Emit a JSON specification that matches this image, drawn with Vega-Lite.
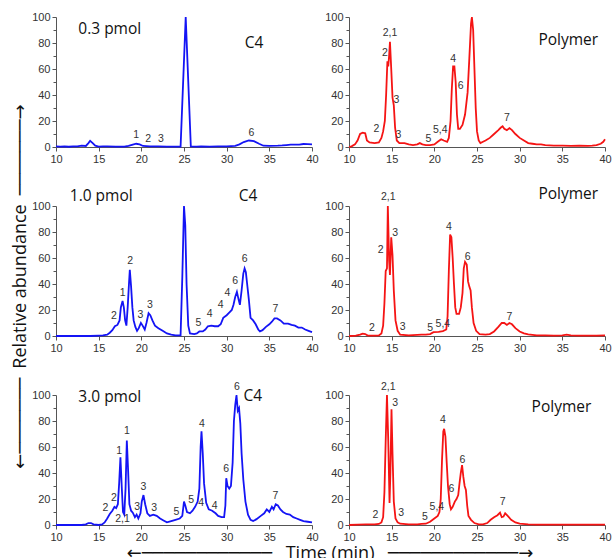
{
 "$schema": "https://vega.github.io/schema/vega-lite/v6.json",
 "padding": {"left": 10, "top": 11, "right": 5, "bottom": 5},
 "bounds": "flush",
 "columns": 2,
 "spacing": {"row": 59, "column": 37},
 "title": {"text": "←────────────\u2002 Time (min) \u2002────────────→", "orient": "bottom", "anchor": "middle", "dx": 19, "font": "Open Sans, DejaVu Sans", "fontSize": 18, "fontWeight": "normal", "color": "#111", "offset": 3},
 "datasets": {
  "curves": [
   {"p":"a","t":10,"y":0.5},{"p":"a","t":10.5,"y":0.3},{"p":"a","t":11,"y":0.5},{"p":"a","t":11.5,"y":0.2},{"p":"a","t":12,"y":0.5},{"p":"a","t":12.5,"y":0.5},{"p":"a","t":13,"y":1},{"p":"a","t":13.5,"y":0.8},{"p":"a","t":13.8,"y":3},{"p":"a","t":14,"y":4.8},{"p":"a","t":14.3,"y":3},{"p":"a","t":14.6,"y":1},{"p":"a","t":15,"y":0.3},{"p":"a","t":15.5,"y":0.5},{"p":"a","t":16,"y":0.5},{"p":"a","t":17,"y":0.3},{"p":"a","t":18,"y":0.3},{"p":"a","t":18.5,"y":0.8},{"p":"a","t":19,"y":1.8},{"p":"a","t":19.4,"y":2.5},{"p":"a","t":19.8,"y":2},{"p":"a","t":20.2,"y":0.8},{"p":"a","t":21,"y":0.5},{"p":"a","t":22,"y":0.5},{"p":"a","t":23,"y":0.3},{"p":"a","t":24,"y":0.3},{"p":"a","t":24.6,"y":0.3},{"p":"a","t":25.2,"y":100},{"p":"a","t":25.8,"y":0.5},{"p":"a","t":26.5,"y":0.3},{"p":"a","t":27,"y":0.5},{"p":"a","t":28,"y":0.3},{"p":"a","t":29,"y":0.5},{"p":"a","t":30,"y":0.5},{"p":"a","t":31,"y":0.8},{"p":"a","t":31.5,"y":2},{"p":"a","t":32,"y":3.8},{"p":"a","t":32.6,"y":5},{"p":"a","t":33.2,"y":4.5},{"p":"a","t":33.8,"y":2.5},{"p":"a","t":34.3,"y":1},{"p":"a","t":35,"y":0.8},{"p":"a","t":36,"y":1},{"p":"a","t":36.5,"y":1.2},{"p":"a","t":37,"y":1.5},{"p":"a","t":37.5,"y":1.8},{"p":"a","t":38,"y":1.8},{"p":"a","t":38.5,"y":1.8},{"p":"a","t":39,"y":2.3},{"p":"a","t":39.5,"y":2.2},{"p":"a","t":40,"y":2},
   {"p":"b","t":10,"y":0},{"p":"b","t":10.3,"y":0.5},{"p":"b","t":10.7,"y":2},{"p":"b","t":11,"y":5},{"p":"b","t":11.3,"y":10},{"p":"b","t":11.6,"y":11},{"p":"b","t":11.9,"y":10.5},{"p":"b","t":12.1,"y":5},{"p":"b","t":12.4,"y":3.5},{"p":"b","t":13,"y":3},{"p":"b","t":13.5,"y":3.5},{"p":"b","t":13.8,"y":7},{"p":"b","t":14,"y":12},{"p":"b","t":14.2,"y":20},{"p":"b","t":14.35,"y":40},{"p":"b","t":14.5,"y":66},{"p":"b","t":14.6,"y":62},{"p":"b","t":14.7,"y":70},{"p":"b","t":14.8,"y":81},{"p":"b","t":14.95,"y":60},{"p":"b","t":15.1,"y":38},{"p":"b","t":15.25,"y":32},{"p":"b","t":15.4,"y":15},{"p":"b","t":15.6,"y":5},{"p":"b","t":15.9,"y":3},{"p":"b","t":16.5,"y":3},{"p":"b","t":17,"y":2},{"p":"b","t":17.5,"y":1.5},{"p":"b","t":18,"y":2},{"p":"b","t":18.3,"y":3},{"p":"b","t":18.6,"y":2},{"p":"b","t":19,"y":1.5},{"p":"b","t":19.5,"y":1.5},{"p":"b","t":20,"y":2},{"p":"b","t":20.4,"y":4},{"p":"b","t":20.8,"y":6},{"p":"b","t":21.1,"y":5},{"p":"b","t":21.5,"y":4},{"p":"b","t":21.7,"y":7},{"p":"b","t":21.9,"y":20},{"p":"b","t":22.05,"y":45},{"p":"b","t":22.2,"y":62},{"p":"b","t":22.35,"y":62},{"p":"b","t":22.5,"y":50},{"p":"b","t":22.65,"y":25},{"p":"b","t":22.8,"y":14},{"p":"b","t":23,"y":14},{"p":"b","t":23.3,"y":17},{"p":"b","t":23.6,"y":25},{"p":"b","t":23.9,"y":42},{"p":"b","t":24.1,"y":68},{"p":"b","t":24.3,"y":95},{"p":"b","t":24.4,"y":100},{"p":"b","t":24.55,"y":90},{"p":"b","t":24.7,"y":60},{"p":"b","t":24.85,"y":30},{"p":"b","t":25,"y":12},{"p":"b","t":25.2,"y":5},{"p":"b","t":25.4,"y":3},{"p":"b","t":25.7,"y":4},{"p":"b","t":26,"y":5},{"p":"b","t":26.5,"y":7},{"p":"b","t":27,"y":10},{"p":"b","t":27.5,"y":13},{"p":"b","t":27.8,"y":15},{"p":"b","t":28,"y":16},{"p":"b","t":28.2,"y":14},{"p":"b","t":28.5,"y":13},{"p":"b","t":28.8,"y":14.5},{"p":"b","t":29.1,"y":13},{"p":"b","t":29.5,"y":10},{"p":"b","t":30,"y":7},{"p":"b","t":30.5,"y":5},{"p":"b","t":31,"y":3},{"p":"b","t":31.5,"y":2.5},{"p":"b","t":32,"y":2},{"p":"b","t":32.5,"y":2},{"p":"b","t":33,"y":1.5},{"p":"b","t":34,"y":1},{"p":"b","t":35,"y":1},{"p":"b","t":36,"y":0.8},{"p":"b","t":37,"y":1},{"p":"b","t":38,"y":0.8},{"p":"b","t":38.5,"y":1},{"p":"b","t":39,"y":1.5},{"p":"b","t":39.5,"y":2.5},{"p":"b","t":39.8,"y":4},{"p":"b","t":40,"y":6},
   {"p":"c","t":10,"y":0},{"p":"c","t":11,"y":0},{"p":"c","t":12,"y":0},{"p":"c","t":13,"y":0},{"p":"c","t":14,"y":0},{"p":"c","t":15,"y":0.3},{"p":"c","t":15.5,"y":0.5},{"p":"c","t":16,"y":1},{"p":"c","t":16.3,"y":2.5},{"p":"c","t":16.6,"y":4.5},{"p":"c","t":16.9,"y":7.5},{"p":"c","t":17.2,"y":8.5},{"p":"c","t":17.45,"y":12},{"p":"c","t":17.6,"y":22},{"p":"c","t":17.8,"y":27},{"p":"c","t":17.95,"y":22},{"p":"c","t":18.1,"y":12},{"p":"c","t":18.25,"y":8},{"p":"c","t":18.4,"y":22},{"p":"c","t":18.55,"y":40},{"p":"c","t":18.65,"y":51},{"p":"c","t":18.8,"y":38},{"p":"c","t":18.95,"y":22},{"p":"c","t":19.1,"y":12},{"p":"c","t":19.3,"y":7},{"p":"c","t":19.5,"y":4},{"p":"c","t":19.7,"y":6},{"p":"c","t":19.95,"y":10},{"p":"c","t":20.15,"y":8},{"p":"c","t":20.4,"y":5},{"p":"c","t":20.6,"y":10},{"p":"c","t":20.85,"y":17.5},{"p":"c","t":21.05,"y":16},{"p":"c","t":21.3,"y":12},{"p":"c","t":21.6,"y":8},{"p":"c","t":22,"y":6},{"p":"c","t":22.5,"y":4},{"p":"c","t":23,"y":2},{"p":"c","t":23.5,"y":1},{"p":"c","t":24,"y":0.5},{"p":"c","t":24.6,"y":0.5},{"p":"c","t":24.8,"y":45},{"p":"c","t":25,"y":100},{"p":"c","t":25.15,"y":85},{"p":"c","t":25.3,"y":40},{"p":"c","t":25.5,"y":8},{"p":"c","t":25.7,"y":2},{"p":"c","t":26.2,"y":1.5},{"p":"c","t":26.5,"y":2},{"p":"c","t":26.8,"y":3.5},{"p":"c","t":27.2,"y":3.5},{"p":"c","t":27.5,"y":5},{"p":"c","t":27.8,"y":7.5},{"p":"c","t":28.2,"y":8},{"p":"c","t":28.6,"y":7.5},{"p":"c","t":29,"y":7.5},{"p":"c","t":29.3,"y":9},{"p":"c","t":29.6,"y":14},{"p":"c","t":30,"y":16},{"p":"c","t":30.3,"y":18},{"p":"c","t":30.6,"y":20},{"p":"c","t":30.8,"y":24},{"p":"c","t":31,"y":30},{"p":"c","t":31.2,"y":34},{"p":"c","t":31.4,"y":28},{"p":"c","t":31.55,"y":24},{"p":"c","t":31.75,"y":35},{"p":"c","t":31.95,"y":48},{"p":"c","t":32.1,"y":52},{"p":"c","t":32.25,"y":49},{"p":"c","t":32.4,"y":40},{"p":"c","t":32.6,"y":28},{"p":"c","t":32.8,"y":14},{"p":"c","t":33.1,"y":12},{"p":"c","t":33.4,"y":9},{"p":"c","t":33.7,"y":5},{"p":"c","t":33.9,"y":3.5},{"p":"c","t":34.2,"y":4.5},{"p":"c","t":34.6,"y":7},{"p":"c","t":35,"y":9},{"p":"c","t":35.3,"y":11},{"p":"c","t":35.6,"y":13.5},{"p":"c","t":35.9,"y":13.5},{"p":"c","t":36.3,"y":12},{"p":"c","t":36.7,"y":9.5},{"p":"c","t":37.2,"y":9.5},{"p":"c","t":37.6,"y":8.5},{"p":"c","t":38,"y":8},{"p":"c","t":38.4,"y":6.5},{"p":"c","t":38.8,"y":6.5},{"p":"c","t":39.2,"y":5},{"p":"c","t":39.6,"y":4},{"p":"c","t":40,"y":3},
   {"p":"d","t":10,"y":0},{"p":"d","t":10.8,"y":0.3},{"p":"d","t":11.3,"y":1},{"p":"d","t":11.6,"y":1.8},{"p":"d","t":11.9,"y":1.5},{"p":"d","t":12.2,"y":0.3},{"p":"d","t":13,"y":0.3},{"p":"d","t":13.5,"y":0.5},{"p":"d","t":13.8,"y":2},{"p":"d","t":14,"y":8},{"p":"d","t":14.15,"y":25},{"p":"d","t":14.3,"y":50},{"p":"d","t":14.45,"y":52},{"p":"d","t":14.55,"y":100},{"p":"d","t":14.7,"y":58},{"p":"d","t":14.8,"y":47},{"p":"d","t":14.95,"y":76},{"p":"d","t":15.1,"y":62},{"p":"d","t":15.25,"y":35},{"p":"d","t":15.45,"y":12},{"p":"d","t":15.7,"y":4},{"p":"d","t":16,"y":1},{"p":"d","t":17,"y":0.5},{"p":"d","t":18,"y":0.8},{"p":"d","t":18.5,"y":1},{"p":"d","t":19,"y":1},{"p":"d","t":19.5,"y":1.5},{"p":"d","t":19.9,"y":3},{"p":"d","t":20.5,"y":3.2},{"p":"d","t":21,"y":3.8},{"p":"d","t":21.4,"y":5},{"p":"d","t":21.55,"y":15},{"p":"d","t":21.7,"y":50},{"p":"d","t":21.85,"y":78},{"p":"d","t":22,"y":76},{"p":"d","t":22.15,"y":60},{"p":"d","t":22.3,"y":40},{"p":"d","t":22.45,"y":22},{"p":"d","t":22.6,"y":17},{"p":"d","t":22.9,"y":17},{"p":"d","t":23.1,"y":22},{"p":"d","t":23.3,"y":33},{"p":"d","t":23.45,"y":52},{"p":"d","t":23.6,"y":57},{"p":"d","t":23.8,"y":55},{"p":"d","t":23.95,"y":42},{"p":"d","t":24.1,"y":38},{"p":"d","t":24.25,"y":35},{"p":"d","t":24.4,"y":22},{"p":"d","t":24.6,"y":10},{"p":"d","t":24.9,"y":4},{"p":"d","t":25.3,"y":1.5},{"p":"d","t":26,"y":1},{"p":"d","t":26.5,"y":1.5},{"p":"d","t":27,"y":3.5},{"p":"d","t":27.5,"y":7},{"p":"d","t":27.9,"y":10},{"p":"d","t":28.2,"y":10},{"p":"d","t":28.5,"y":8.5},{"p":"d","t":28.8,"y":10},{"p":"d","t":29.1,"y":9},{"p":"d","t":29.5,"y":6},{"p":"d","t":30,"y":3.5},{"p":"d","t":30.5,"y":2},{"p":"d","t":31,"y":1.2},{"p":"d","t":32,"y":0.5},{"p":"d","t":33,"y":0.5},{"p":"d","t":34,"y":0.3},{"p":"d","t":35,"y":0.5},{"p":"d","t":35.5,"y":1},{"p":"d","t":36,"y":0.5},{"p":"d","t":37,"y":0.3},{"p":"d","t":38,"y":0.3},{"p":"d","t":39,"y":0.3},{"p":"d","t":40,"y":0.5},
   {"p":"e","t":10,"y":0},{"p":"e","t":11,"y":0},{"p":"e","t":12,"y":0},{"p":"e","t":13,"y":0},{"p":"e","t":13.5,"y":0.5},{"p":"e","t":13.8,"y":1.5},{"p":"e","t":14.1,"y":1.5},{"p":"e","t":14.4,"y":0.5},{"p":"e","t":15,"y":0},{"p":"e","t":15.4,"y":0.5},{"p":"e","t":15.7,"y":2},{"p":"e","t":16,"y":5},{"p":"e","t":16.3,"y":8.5},{"p":"e","t":16.6,"y":11},{"p":"e","t":16.85,"y":14},{"p":"e","t":17.05,"y":13},{"p":"e","t":17.25,"y":16},{"p":"e","t":17.4,"y":32},{"p":"e","t":17.55,"y":52},{"p":"e","t":17.7,"y":30},{"p":"e","t":17.85,"y":10},{"p":"e","t":18,"y":8},{"p":"e","t":18.15,"y":28},{"p":"e","t":18.3,"y":65},{"p":"e","t":18.45,"y":42},{"p":"e","t":18.6,"y":16},{"p":"e","t":18.8,"y":11},{"p":"e","t":19,"y":9.5},{"p":"e","t":19.25,"y":6},{"p":"e","t":19.45,"y":8},{"p":"e","t":19.65,"y":5},{"p":"e","t":19.9,"y":9},{"p":"e","t":20.05,"y":18},{"p":"e","t":20.25,"y":23},{"p":"e","t":20.45,"y":16},{"p":"e","t":20.7,"y":9},{"p":"e","t":21,"y":7},{"p":"e","t":21.4,"y":8},{"p":"e","t":21.8,"y":7},{"p":"e","t":22.2,"y":5},{"p":"e","t":22.6,"y":3.5},{"p":"e","t":23,"y":2},{"p":"e","t":23.5,"y":3},{"p":"e","t":24,"y":4},{"p":"e","t":24.5,"y":5},{"p":"e","t":24.8,"y":7},{"p":"e","t":25,"y":18},{"p":"e","t":25.15,"y":15},{"p":"e","t":25.35,"y":10},{"p":"e","t":25.7,"y":9},{"p":"e","t":26,"y":11},{"p":"e","t":26.3,"y":14},{"p":"e","t":26.6,"y":18},{"p":"e","t":26.8,"y":28},{"p":"e","t":26.95,"y":60},{"p":"e","t":27.05,"y":72},{"p":"e","t":27.2,"y":55},{"p":"e","t":27.35,"y":32},{"p":"e","t":27.6,"y":17},{"p":"e","t":27.9,"y":12},{"p":"e","t":28.3,"y":11},{"p":"e","t":28.7,"y":9},{"p":"e","t":29,"y":7},{"p":"e","t":29.4,"y":6},{"p":"e","t":29.7,"y":6},{"p":"e","t":29.85,"y":15},{"p":"e","t":29.95,"y":36},{"p":"e","t":30.1,"y":30},{"p":"e","t":30.3,"y":28},{"p":"e","t":30.5,"y":30},{"p":"e","t":30.7,"y":48},{"p":"e","t":30.85,"y":80},{"p":"e","t":31,"y":92},{"p":"e","t":31.15,"y":100},{"p":"e","t":31.3,"y":88},{"p":"e","t":31.45,"y":90},{"p":"e","t":31.6,"y":78},{"p":"e","t":31.75,"y":55},{"p":"e","t":31.95,"y":35},{"p":"e","t":32.2,"y":18},{"p":"e","t":32.5,"y":8},{"p":"e","t":32.8,"y":4},{"p":"e","t":33.1,"y":3},{"p":"e","t":33.5,"y":4.5},{"p":"e","t":34,"y":7},{"p":"e","t":34.4,"y":9},{"p":"e","t":34.7,"y":12},{"p":"e","t":35,"y":10},{"p":"e","t":35.3,"y":14},{"p":"e","t":35.5,"y":12},{"p":"e","t":35.75,"y":16},{"p":"e","t":36,"y":15},{"p":"e","t":36.3,"y":12},{"p":"e","t":36.6,"y":10},{"p":"e","t":37,"y":8.5},{"p":"e","t":37.4,"y":8},{"p":"e","t":37.8,"y":6},{"p":"e","t":38.2,"y":5},{"p":"e","t":38.6,"y":4},{"p":"e","t":39,"y":3},{"p":"e","t":39.5,"y":2.5},{"p":"e","t":40,"y":2},
   {"p":"f","t":10,"y":0},{"p":"f","t":11,"y":0.3},{"p":"f","t":12,"y":0.5},{"p":"f","t":13,"y":0.5},{"p":"f","t":13.5,"y":0.8},{"p":"f","t":13.8,"y":2},{"p":"f","t":14,"y":6},{"p":"f","t":14.15,"y":25},{"p":"f","t":14.3,"y":65},{"p":"f","t":14.45,"y":100},{"p":"f","t":14.6,"y":65},{"p":"f","t":14.75,"y":17},{"p":"f","t":14.85,"y":40},{"p":"f","t":14.98,"y":89},{"p":"f","t":15.1,"y":55},{"p":"f","t":15.25,"y":18},{"p":"f","t":15.45,"y":5},{"p":"f","t":15.7,"y":2},{"p":"f","t":16,"y":1},{"p":"f","t":17,"y":0.5},{"p":"f","t":18,"y":0.5},{"p":"f","t":18.5,"y":0.8},{"p":"f","t":19,"y":1},{"p":"f","t":19.5,"y":2.5},{"p":"f","t":20,"y":5},{"p":"f","t":20.4,"y":7},{"p":"f","t":20.6,"y":10},{"p":"f","t":20.75,"y":20},{"p":"f","t":20.9,"y":50},{"p":"f","t":21.05,"y":72},{"p":"f","t":21.15,"y":74},{"p":"f","t":21.3,"y":68},{"p":"f","t":21.45,"y":48},{"p":"f","t":21.6,"y":30},{"p":"f","t":21.8,"y":16},{"p":"f","t":21.95,"y":12},{"p":"f","t":22.15,"y":14},{"p":"f","t":22.4,"y":18},{"p":"f","t":22.6,"y":20},{"p":"f","t":22.8,"y":23},{"p":"f","t":22.95,"y":32},{"p":"f","t":23.1,"y":40},{"p":"f","t":23.25,"y":46},{"p":"f","t":23.4,"y":37},{"p":"f","t":23.55,"y":30},{"p":"f","t":23.7,"y":27},{"p":"f","t":23.85,"y":15},{"p":"f","t":24,"y":7},{"p":"f","t":24.3,"y":4},{"p":"f","t":24.7,"y":1.5},{"p":"f","t":25.2,"y":0.5},{"p":"f","t":25.7,"y":0.5},{"p":"f","t":26.2,"y":1.5},{"p":"f","t":26.6,"y":4},{"p":"f","t":27,"y":6},{"p":"f","t":27.4,"y":7.5},{"p":"f","t":27.7,"y":9.5},{"p":"f","t":27.9,"y":6},{"p":"f","t":28.1,"y":6.5},{"p":"f","t":28.3,"y":9},{"p":"f","t":28.6,"y":7},{"p":"f","t":29,"y":4},{"p":"f","t":29.5,"y":2},{"p":"f","t":30,"y":1},{"p":"f","t":31,"y":0.5},{"p":"f","t":32,"y":0.3},{"p":"f","t":35,"y":0.3},{"p":"f","t":40,"y":0.3}
  ],
  "peaks": [
   {"p":"a","t":19.4,"y":9,"s":"1"},{"p":"a","t":20.8,"y":6,"s":"2"},{"p":"a","t":22.3,"y":6,"s":"3"},{"p":"a","t":32.9,"y":11,"s":"6"},
   {"p":"b","t":14.8,"y":88,"s":"2,1"},{"p":"b","t":14.2,"y":72,"s":"2"},{"p":"b","t":15.55,"y":36,"s":"3"},{"p":"b","t":13.2,"y":14,"s":"2"},{"p":"b","t":15.8,"y":9,"s":"3"},{"p":"b","t":19.3,"y":6,"s":"5"},{"p":"b","t":20.7,"y":13,"s":"5,4"},{"p":"b","t":22.2,"y":68,"s":"4"},{"p":"b","t":23.1,"y":47,"s":"6"},{"p":"b","t":28.5,"y":22,"s":"7"},
   {"p":"c","t":16.8,"y":15.5,"s":"2"},{"p":"c","t":17.8,"y":33,"s":"1"},{"p":"c","t":18.7,"y":58,"s":"2"},{"p":"c","t":19.9,"y":16,"s":"3"},{"p":"c","t":21.0,"y":23.5,"s":"3"},{"p":"c","t":26.7,"y":9.7,"s":"5"},{"p":"c","t":28.0,"y":17,"s":"4"},{"p":"c","t":29.3,"y":23.5,"s":"4"},{"p":"c","t":30.1,"y":33,"s":"4"},{"p":"c","t":31.0,"y":42,"s":"6"},{"p":"c","t":32.1,"y":59,"s":"6"},{"p":"c","t":35.7,"y":21,"s":"7"},
   {"p":"d","t":14.6,"y":107,"s":"2,1"},{"p":"d","t":15.4,"y":79,"s":"3"},{"p":"d","t":13.7,"y":66,"s":"2"},{"p":"d","t":12.7,"y":6,"s":"2"},{"p":"d","t":16.3,"y":7,"s":"3"},{"p":"d","t":19.5,"y":6,"s":"5"},{"p":"d","t":21.0,"y":9.5,"s":"5,4"},{"p":"d","t":21.7,"y":84,"s":"4"},{"p":"d","t":23.9,"y":61,"s":"6"},{"p":"d","t":28.8,"y":15,"s":"7"},
   {"p":"e","t":15.8,"y":13,"s":"2"},{"p":"e","t":16.8,"y":21,"s":"2"},{"p":"e","t":17.4,"y":57,"s":"1"},{"p":"e","t":18.3,"y":72,"s":"1"},{"p":"e","t":17.8,"y":5,"s":"2,1"},{"p":"e","t":19.5,"y":14,"s":"3"},{"p":"e","t":20.25,"y":29.5,"s":"3"},{"p":"e","t":21.5,"y":13,"s":"3"},{"p":"e","t":24.1,"y":10,"s":"5"},{"p":"e","t":25.85,"y":19,"s":"5"},{"p":"e","t":27.0,"y":17,"s":"4"},{"p":"e","t":27.1,"y":78,"s":"4"},{"p":"e","t":28.6,"y":15,"s":"4"},{"p":"e","t":29.95,"y":43,"s":"6"},{"p":"e","t":31.2,"y":106,"s":"6"},{"p":"e","t":35.7,"y":22,"s":"7"},
   {"p":"f","t":14.6,"y":106,"s":"2,1"},{"p":"f","t":15.4,"y":94,"s":"3"},{"p":"f","t":13.1,"y":8,"s":"2"},{"p":"f","t":16.1,"y":9,"s":"3"},{"p":"f","t":18.9,"y":6,"s":"5"},{"p":"f","t":20.3,"y":13.5,"s":"5,4"},{"p":"f","t":21.0,"y":81,"s":"4"},{"p":"f","t":22.0,"y":28,"s":"6"},{"p":"f","t":23.3,"y":50,"s":"6"},{"p":"f","t":28.0,"y":17.4,"s":"7"}
  ],
  "heads": [
   {"p":"a","t":16.3,"y":91,"s":"0.3 pmol"},{"p":"a","t":33.2,"y":80,"s":"C4"},
   {"p":"b","t":35.7,"y":82,"s":"Polymer"},
   {"p":"c","t":15.3,"y":108,"s":"1.0 pmol"},{"p":"c","t":32.5,"y":108,"s":"C4"},
   {"p":"d","t":35.7,"y":109,"s":"Polymer"},
   {"p":"e","t":16.3,"y":98.7,"s":"3.0 pmol"},{"p":"e","t":33.05,"y":99,"s":"C4"},
   {"p":"f","t":34.9,"y":91,"s":"Polymer"}
  ]
 },
 "concat": [
  {"width": 256, "height": 130, "resolve": {"axis": {"y": "independent"}}, "layer": [
   {"data": {"name": "curves"}, "transform": [{"filter": "datum.p === 'a'"}], "mark": {"type": "line", "color": "#1414f5", "strokeWidth": 1.8}, "encoding": {"x": {"field": "t", "type": "quantitative", "scale": {"domain": [10, 40]}, "axis": {"values": [10,15,20,25,30,35,40], "title": null}}, "y": {"field": "y", "type": "quantitative", "scale": {"domain": [0, 100]}, "axis": {"values": [0,20,40,60,80,100], "title": null, "labelOverlap": false}}}},
   {"data": {"name": "peaks"}, "transform": [{"filter": "datum.p === 'a'"}], "mark": {"type": "text"}, "encoding": {"x": {"field": "t", "type": "quantitative"}, "y": {"field": "y", "type": "quantitative", "axis": {"orient": "left", "values": [10,30,50,70,90], "labels": false, "domain": false, "tickSize": 3, "title": null}}, "text": {"field": "s"}}},
   {"data": {"name": "heads"}, "transform": [{"filter": "datum.p === 'a'"}], "mark": {"type": "text", "font": "Open Sans", "fontSize": 15.5, "color": "#111"}, "encoding": {"x": {"field": "t", "type": "quantitative"}, "y": {"field": "y", "type": "quantitative", "axis": null}, "text": {"field": "s"}}}
  ]},
  {"width": 256, "height": 130, "resolve": {"axis": {"y": "independent"}}, "layer": [
   {"data": {"name": "curves"}, "transform": [{"filter": "datum.p === 'b'"}], "mark": {"type": "line", "color": "#f51414", "strokeWidth": 1.8}, "encoding": {"x": {"field": "t", "type": "quantitative", "scale": {"domain": [10, 40]}, "axis": {"values": [10,15,20,25,30,35,40], "title": null}}, "y": {"field": "y", "type": "quantitative", "scale": {"domain": [0, 100]}, "axis": {"values": [0,20,40,60,80,100], "title": null, "labelOverlap": false}}}},
   {"data": {"name": "peaks"}, "transform": [{"filter": "datum.p === 'b'"}], "mark": {"type": "text"}, "encoding": {"x": {"field": "t", "type": "quantitative"}, "y": {"field": "y", "type": "quantitative", "axis": {"orient": "left", "values": [10,30,50,70,90], "labels": false, "domain": false, "tickSize": 3, "title": null}}, "text": {"field": "s"}}},
   {"data": {"name": "heads"}, "transform": [{"filter": "datum.p === 'b'"}], "mark": {"type": "text", "font": "Open Sans", "fontSize": 15.5, "color": "#111"}, "encoding": {"x": {"field": "t", "type": "quantitative"}, "y": {"field": "y", "type": "quantitative", "axis": null}, "text": {"field": "s"}}}
  ]},
  {"width": 256, "height": 130, "resolve": {"axis": {"y": "independent"}}, "layer": [
   {"data": {"name": "curves"}, "transform": [{"filter": "datum.p === 'c'"}], "mark": {"type": "line", "color": "#1414f5", "strokeWidth": 1.8}, "encoding": {"x": {"field": "t", "type": "quantitative", "scale": {"domain": [10, 40]}, "axis": {"values": [10,15,20,25,30,35,40], "title": null}}, "y": {"field": "y", "type": "quantitative", "scale": {"domain": [0, 100]}, "axis": {"values": [0,20,40,60,80,100], "labelOverlap": false, "title": "←───────\u2002Relative abundance\u2002───────→", "titleFont": "Open Sans, DejaVu Sans", "titleFontSize": 18, "titleFontWeight": "normal", "titleColor": "#111", "titleAngle": -90, "titleAlign": "center", "titleBaseline": "alphabetic", "titleX": -31, "titleY": 80}}}},
   {"data": {"name": "peaks"}, "transform": [{"filter": "datum.p === 'c'"}], "mark": {"type": "text"}, "encoding": {"x": {"field": "t", "type": "quantitative"}, "y": {"field": "y", "type": "quantitative", "axis": {"orient": "left", "values": [10,30,50,70,90], "labels": false, "domain": false, "tickSize": 3, "title": null}}, "text": {"field": "s"}}},
   {"data": {"name": "heads"}, "transform": [{"filter": "datum.p === 'c'"}], "mark": {"type": "text", "font": "Open Sans", "fontSize": 15.5, "color": "#111"}, "encoding": {"x": {"field": "t", "type": "quantitative"}, "y": {"field": "y", "type": "quantitative", "axis": null}, "text": {"field": "s"}}}
  ]},
  {"width": 256, "height": 130, "resolve": {"axis": {"y": "independent"}}, "layer": [
   {"data": {"name": "curves"}, "transform": [{"filter": "datum.p === 'd'"}], "mark": {"type": "line", "color": "#f51414", "strokeWidth": 1.8}, "encoding": {"x": {"field": "t", "type": "quantitative", "scale": {"domain": [10, 40]}, "axis": {"values": [10,15,20,25,30,35,40], "title": null}}, "y": {"field": "y", "type": "quantitative", "scale": {"domain": [0, 100]}, "axis": {"values": [0,20,40,60,80,100], "title": null, "labelOverlap": false}}}},
   {"data": {"name": "peaks"}, "transform": [{"filter": "datum.p === 'd'"}], "mark": {"type": "text"}, "encoding": {"x": {"field": "t", "type": "quantitative"}, "y": {"field": "y", "type": "quantitative", "axis": {"orient": "left", "values": [10,30,50,70,90], "labels": false, "domain": false, "tickSize": 3, "title": null}}, "text": {"field": "s"}}},
   {"data": {"name": "heads"}, "transform": [{"filter": "datum.p === 'd'"}], "mark": {"type": "text", "font": "Open Sans", "fontSize": 15.5, "color": "#111"}, "encoding": {"x": {"field": "t", "type": "quantitative"}, "y": {"field": "y", "type": "quantitative", "axis": null}, "text": {"field": "s"}}}
  ]},
  {"width": 256, "height": 130, "resolve": {"axis": {"y": "independent"}}, "layer": [
   {"data": {"name": "curves"}, "transform": [{"filter": "datum.p === 'e'"}], "mark": {"type": "line", "color": "#1414f5", "strokeWidth": 1.8}, "encoding": {"x": {"field": "t", "type": "quantitative", "scale": {"domain": [10, 40]}, "axis": {"values": [10,15,20,25,30,35,40], "title": null}}, "y": {"field": "y", "type": "quantitative", "scale": {"domain": [0, 100]}, "axis": {"values": [0,20,40,60,80,100], "title": null, "labelOverlap": false}}}},
   {"data": {"name": "peaks"}, "transform": [{"filter": "datum.p === 'e'"}], "mark": {"type": "text"}, "encoding": {"x": {"field": "t", "type": "quantitative"}, "y": {"field": "y", "type": "quantitative", "axis": {"orient": "left", "values": [10,30,50,70,90], "labels": false, "domain": false, "tickSize": 3, "title": null}}, "text": {"field": "s"}}},
   {"data": {"name": "heads"}, "transform": [{"filter": "datum.p === 'e'"}], "mark": {"type": "text", "font": "Open Sans", "fontSize": 15.5, "color": "#111"}, "encoding": {"x": {"field": "t", "type": "quantitative"}, "y": {"field": "y", "type": "quantitative", "axis": null}, "text": {"field": "s"}}}
  ]},
  {"width": 256, "height": 130, "resolve": {"axis": {"y": "independent"}}, "layer": [
   {"data": {"name": "curves"}, "transform": [{"filter": "datum.p === 'f'"}], "mark": {"type": "line", "color": "#f51414", "strokeWidth": 1.8}, "encoding": {"x": {"field": "t", "type": "quantitative", "scale": {"domain": [10, 40]}, "axis": {"values": [10,15,20,25,30,35,40], "title": null}}, "y": {"field": "y", "type": "quantitative", "scale": {"domain": [0, 100]}, "axis": {"values": [0,20,40,60,80,100], "title": null, "labelOverlap": false}}}},
   {"data": {"name": "peaks"}, "transform": [{"filter": "datum.p === 'f'"}], "mark": {"type": "text"}, "encoding": {"x": {"field": "t", "type": "quantitative"}, "y": {"field": "y", "type": "quantitative", "axis": {"orient": "left", "values": [10,30,50,70,90], "labels": false, "domain": false, "tickSize": 3, "title": null}}, "text": {"field": "s"}}},
   {"data": {"name": "heads"}, "transform": [{"filter": "datum.p === 'f'"}], "mark": {"type": "text", "font": "Open Sans", "fontSize": 15.5, "color": "#111"}, "encoding": {"x": {"field": "t", "type": "quantitative"}, "y": {"field": "y", "type": "quantitative", "axis": null}, "text": {"field": "s"}}}
  ]}
 ],
 "config": {
  "view": {"stroke": null},
  "axis": {"grid": false, "labelFont": "Liberation Sans", "labelFontSize": 11, "labelColor": "#333", "domainColor": "#555", "tickColor": "#555", "tickSize": 4, "labelPadding": 2, "labelFlush": false, "labelOverlap": false},
  "text": {"font": "Liberation Sans", "fontSize": 10.5, "color": "#333"}
 }
}
